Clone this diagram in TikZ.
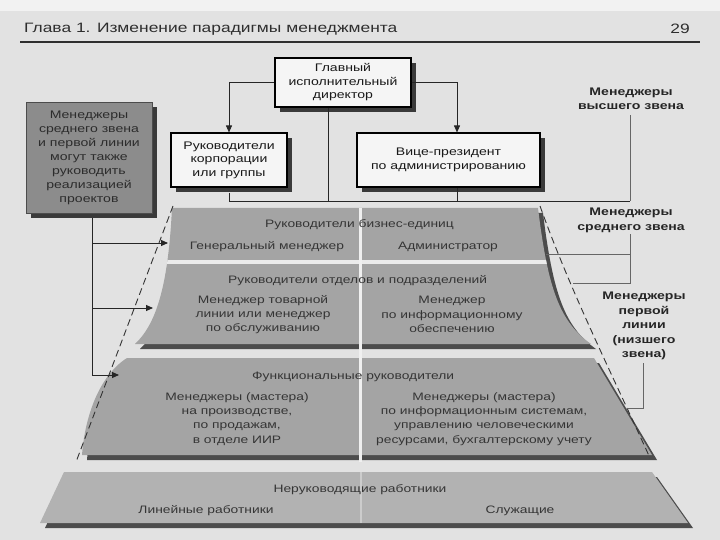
\documentclass[tikz,border=0pt]{standalone}
\usepackage{fontspec}
\setmainfont{Liberation Sans}
\newfontfamily\wfont{Liberation Sans}[FakeStretch=1.28]
\usetikzlibrary{arrows.meta,shadows}
\definecolor{bg}{HTML}{E2E2E2}
\definecolor{band}{HTML}{A4A4A4}
\definecolor{bandlt}{HTML}{B2B2B2}
\definecolor{bandsh}{HTML}{4C4C4C}
\definecolor{boxsh}{HTML}{3A3A3A}
\definecolor{darkbox}{HTML}{8C8C8C}
\definecolor{ptext}{HTML}{353535}
\definecolor{gtext}{HTML}{2C2C2C}
\definecolor{hdr}{HTML}{2E2E2E}
\begin{document}
\begin{tikzpicture}[x=1pt,y=-1pt,
  box/.style={draw=black, line width=1.1pt, fill=white!96!black, align=center, inner sep=0pt,
    text=black!90, font=\wfont\fontsize{11}{13.5}\selectfont,
    drop shadow={shadow xshift=5pt, shadow yshift=-5pt, fill=boxsh, opacity=1}},
  gbox/.style={draw=black!70, line width=0.8pt, fill=darkbox, align=center, inner sep=0pt,
    font=\wfont\fontsize{11}{14}\selectfont,
    drop shadow={shadow xshift=5pt, shadow yshift=-5pt, fill=boxsh, opacity=1}},
  ptxt/.style={text=ptext, align=center, inner sep=0pt, font=\wfont\fontsize{10.8}{14.3}\selectfont},
  lab/.style={text=black!85, align=center, inner sep=0pt, font=\wfont\bfseries\fontsize{11}{14.5}\selectfont},
  ln/.style={draw=black!85, line width=0.9pt},
  thin/.style={draw=black!60, line width=0.7pt},
  arr/.style={draw=black!85, line width=0.9pt, -{Triangle[length=7pt,width=6pt]}},
  dsh/.style={draw=black!80, line width=0.9pt, dash pattern=on 7pt off 4pt}
]
\useasboundingbox (0,0) rectangle (720,540);
\fill[bg] (0,0) rectangle (720,540);
\fill[white!55!bg] (0,0) rectangle (720,11);

% header
\node[anchor=west, inner sep=0pt, text=hdr, font=\wfont\fontsize{13.6}{16}\selectfont] (hd) at (24,29) {Глава 1. Изменение парадигмы менеджмента};
\node[anchor=east, inner sep=0pt, text=hdr, font=\wfont\fontsize{13.6}{16}\selectfont] (pg) at (690,29) {29};
\draw[line width=1.4pt, hdr] (20,42) -- (700,42);

% pyramid bands
\def\bandAB{(172,208) -- (538,208) .. controls (548,290) and (560,322) .. (591,344) -- (135,344) .. controls (155,325) and (168,290) .. (172,208) -- cycle}
\def\bandC{(127,358) -- (594,358) -- (652,455) -- (82,455) .. controls (85,415) and (100,375) .. (127,358) -- cycle}
\def\bandD{(64,472) -- (652,472) -- (688,523) -- (40,523) -- cycle}
\begin{scope}[shift={(5,5)}]
  \fill[bandsh] \bandAB;
  \fill[bandsh] \bandC;
  \fill[bandsh] \bandD;
\end{scope}
\fill[band] \bandAB;
\fill[band] \bandC;
\fill[bandlt] \bandD;
\begin{scope}
  \clip \bandAB;
  \fill[white!92!black] (100,259.5) rectangle (620,263.5);
\end{scope}
\draw[white!94!black, line width=3pt] (360,208) -- (360,462);
\draw[white, opacity=0.35, line width=2.5pt] (361,472) -- (361,523);

% pyramid texts
\node[ptxt, anchor=west] (b1t) at (265,225) {Руководители бизнес-единиц};
\node[ptxt] (b1l) at (267,247) {Генеральный менеджер};
\node[ptxt] (b1r) at (448,247) {Администратор};
\node[ptxt, anchor=west] (b2t) at (228,281) {Руководители отделов и подразделений};
\node[ptxt] (b2l) at (263,314.5) {Менеджер товарной\\линии или менеджер\\по обслуживанию};
\node[ptxt] (b2r) at (452,314.5) {Менеджер\\по информационному\\обеспечению};
\node[ptxt, anchor=west] (b3t) at (252,377) {Функциональные руководители};
\node[ptxt] (b3l) at (237,419) {Менеджеры (мастера)\\на производстве,\\по продажам,\\в отделе ИИР};
\node[ptxt] (b3r) at (484,419) {Менеджеры (мастера)\\по информационным системам,\\управлению человеческими\\ресурсами, бухгалтерскому учету};
\node[ptxt] (b4t) at (360,490) {Неруководящие работники};
\node[ptxt] (b4l) at (206,511) {Линейные работники};
\node[ptxt] (b4r) at (520,511) {Служащие};

% dashed outlines
\coordinate (dl1) at (173,206);
\coordinate (dl2) at (76,462);
\coordinate (dr1) at (540,206);
\coordinate (dr2) at (650,458);
\draw[dsh] (dl1) -- (dl2);
\draw[dsh] (dr1) .. controls (570,290) and (610,370) .. (dr2);

% top boxes
\node[box, minimum width=136pt, minimum height=49pt] (ceo) at (343,82.5) {Главный\\исполнительный\\директор};
\node[box, minimum width=116pt, minimum height=54pt] (corp) at (229,160) {Руководители\\корпорации\\или группы};
\node[box, minimum width=183pt, minimum height=54pt] (vp) at (448.5,160) {Вице-президент\\по администрированию};
\node[gbox, minimum width=126pt, minimum height=111pt] (lbox) at (89,157.5) {\color{gtext}Менеджеры\\\color{gtext}среднего звена\\\color{gtext}и первой линии\\\color{gtext}могут также\\\color{gtext}руководить\\\color{gtext}реализацией\\\color{gtext}проектов};

% right labels
\node[lab] (toplab) at (631,99) {Менеджеры\\высшего звена};
\node[lab] (midlab) at (631,220.5) {Менеджеры\\среднего звена};
\node[lab] (botlab) at (644,326) {Менеджеры\\первой\\линии\\(низшего\\звена)};

% connectors top
\coordinate (vpin) at ([xshift=8.5pt]vp.north);
\coordinate (cs) at ([xshift=-15pt]ceo.south);
\coordinate (hR) at (630,201);
\draw[arr] (ceo.west) -| (corp.north);
\draw[arr] (ceo.east) -| (vpin);
\draw[ln] ([yshift=-5pt]corp.south) |- (hR);
\draw[ln] (cs) -- (cs |- hR);
\draw[ln] (vp.south -| vpin) -- (vpin |- hR);
\draw[thin] ([yshift=-5pt]toplab.south -| hR) -- (hR);

% middle bracket
\coordinate (m1) at (546,254);
\coordinate (m2) at (573,283);
\coordinate (mv) at ([yshift=-1pt]midlab.south -| hR);
\draw[thin] (m1) -| (mv);
\draw[thin] (m2) -| (mv);

% bottom bracket
\coordinate (bb) at (627,408);
\draw[thin] ([yshift=-3pt]botlab.south -| 643,0) |- (bb);

% left arrows
\coordinate (lb) at ([xshift=3pt,yshift=-5pt]lbox.south);
\coordinate (t1) at (168,243);
\coordinate (t2) at (153,308);
\coordinate (t3) at (119,375);
\draw[arr] (lb) |- (t3);
\draw[arr] (lb |- t1) -- (t1);
\draw[arr] (lb |- t2) -- (t2);
\end{tikzpicture}
\end{document}
